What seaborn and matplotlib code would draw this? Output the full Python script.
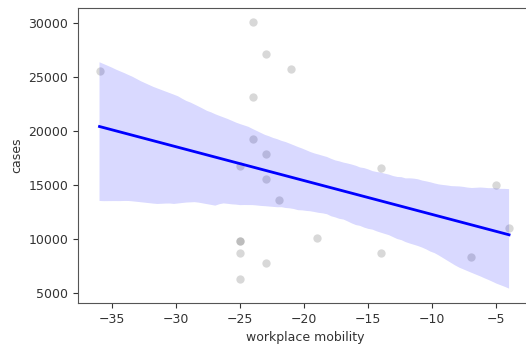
import matplotlib
matplotlib.use("Agg")
import matplotlib.pyplot as plt
import seaborn as sns
import pandas as pd
import numpy as np

mobility = [-36, -24, -23, -21, -24, -24, -23, -25, -23, -22, -25, -25, -25, -25,
            -23, -14, -5, -4, -19, -14, -7]
cases = [25610, 30120, 27160, 25770, 23150, 19290, 17900, 16810, 15580, 13610,
         9870, 9870, 8700, 6350, 7830, 16630, 15000, 11070, 10090, 8700, 8360]

df = pd.DataFrame({"workplace mobility": mobility, "cases": cases})

plt.rcParams["font.family"] = ["DejaVu Sans"]
plt.rcParams["font.size"] = 9

fig = plt.figure(figsize=(5.26, 3.52), dpi=100)
ax = fig.add_axes([78 / 526, (352 - 303) / 352, (532 - 78) / 526, (303 - 8.3) / 352])
sns.regplot(data=df, x="workplace mobility", y="cases", ax=ax, seed=3,
            scatter_kws={"color": "grey", "alpha": 0.3, "s": 36, "linewidths": 0},
            line_kws={"color": "blue", "lw": 2})
ax.set_xticks([-35, -30, -25, -20, -15, -10, -5])
ax.set_yticks([5000, 10000, 15000, 20000, 25000, 30000])
ax.set_xlim(-37.68, -2.21)
ax.set_ylim(4100, 31390)
for s in ax.spines.values():
    s.set_color("#555555")
ax.tick_params(colors="#333333", labelsize=9)
ax.xaxis.label.set_color("#333333")
ax.yaxis.label.set_color("#333333")
fig.savefig("out.png", dpi=100)
